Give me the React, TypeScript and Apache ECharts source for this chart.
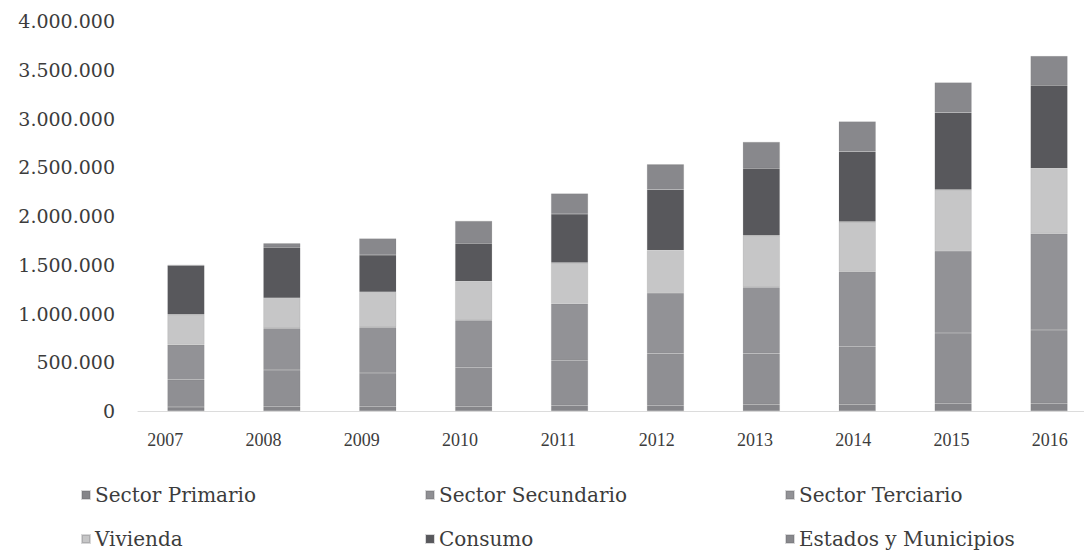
import React, { useEffect, useRef } from "react";
import * as echarts from "echarts";

const years = ["2007", "2008", "2009", "2010", "2011", "2012", "2013", "2014", "2015", "2016"];
const sectorPrimario = [40000, 50000, 50000, 50000, 60000, 60000, 70000, 70000, 80000, 80000];
const sectorSecundario = [280000, 370000, 340000, 400000, 460000, 530000, 520000, 590000, 720000, 750000];
const sectorTerciario = [360000, 430000, 470000, 480000, 580000, 620000, 680000, 770000, 840000, 990000];
const vivienda = [310000, 310000, 360000, 400000, 420000, 440000, 530000, 510000, 630000, 670000];
const consumo = [500000, 520000, 380000, 390000, 500000, 620000, 690000, 720000, 790000, 850000];
const estadosMunicipios = [10000, 40000, 170000, 230000, 210000, 260000, 270000, 310000, 310000, 300000];
const yTicks = [0, 500000, 1000000, 1500000, 2000000, 2500000, 3000000, 3500000, 4000000];

const seriesDefs = [
  { name: "Sector Primario", data: sectorPrimario, color: "#858589" },
  { name: "Sector Secundario", data: sectorSecundario, color: "#8f8f93" },
  { name: "Sector Terciario", data: sectorTerciario, color: "#929296" },
  { name: "Vivienda", data: vivienda, color: "#c6c6c7" },
  { name: "Consumo", data: consumo, color: "#58585c" },
  { name: "Estados y Municipios", data: estadosMunicipios, color: "#88888c" },
];

const legendPos = [
  { left: 76, top: 480 },
  { left: 420, top: 480 },
  { left: 780, top: 480 },
  { left: 76, top: 524 },
  { left: 420, top: 524 },
  { left: 780, top: 524 },
];

const fmt = (v: number) => String(v).replace(/\B(?=(\d{3})+(?!\d))/g, ".");

export default function App() {
  const ref = useRef<HTMLDivElement>(null);
  useEffect(() => {
    const chart = echarts.init(ref.current!, null, { renderer: "svg" });
    chart.setOption({
      animation: false,
      backgroundColor: "#ffffff",
      grid: [
        { left: 138, right: 3, top: 21, bottom: 139, containLabel: false },
        { left: 116, right: 1, top: 21, bottom: 139, containLabel: false },
      ],
      legend: seriesDefs.map((s, i) => ({
        data: [s.name],
        left: legendPos[i].left,
        top: legendPos[i].top,
        icon: "rect",
        itemWidth: 8,
        itemHeight: 8,
        itemGap: 6,
        textStyle: { fontFamily: "DejaVu Serif", fontSize: 20, color: "#3c3c3c" },
      })),
      xAxis: [
        {
          type: "category",
          gridIndex: 0,
          data: years,
          axisLine: { show: true, lineStyle: { color: "#dcdcdc", width: 1 } },
          axisTick: { show: false },
          axisLabel: { show: false },
        },
        {
          type: "category",
          gridIndex: 1,
          data: years,
          axisLine: { show: false },
          axisTick: { show: false },
          axisLabel: { fontFamily: "Liberation Serif", fontSize: 18, color: "#3c3c3c", margin: 20 },
        },
      ],
      yAxis: [
        {
          type: "value",
          gridIndex: 0,
          min: yTicks[0],
          max: yTicks[yTicks.length - 1],
          interval: 500000,
          axisLine: { show: false },
          axisTick: { show: false },
          splitLine: { show: false },
          axisLabel: {
            fontFamily: "DejaVu Serif",
            fontSize: 19,
            color: "#3c3c3c",
            margin: 23,
            formatter: (v: number) => fmt(v),
          },
        },
        {
          type: "value",
          gridIndex: 1,
          min: 0,
          max: 4000000,
          interval: 500000,
          show: false,
        },
      ],
      series: seriesDefs.map((s) => ({
        name: s.name,
        type: "bar",
        stack: "total",
        xAxisIndex: 0,
        yAxisIndex: 0,
        data: s.data,
        barWidth: 37,
        itemStyle: { color: s.color, borderColor: "rgba(100,100,105,0.25)", borderWidth: 0.5 },
      })),
    });
    return () => chart.dispose();
  }, []);
  return (
    <div
      ref={ref}
      style={{ position: "fixed", left: 0, top: 0, width: 1100, height: 550, background: "#fff" }}
    />
  );
}
